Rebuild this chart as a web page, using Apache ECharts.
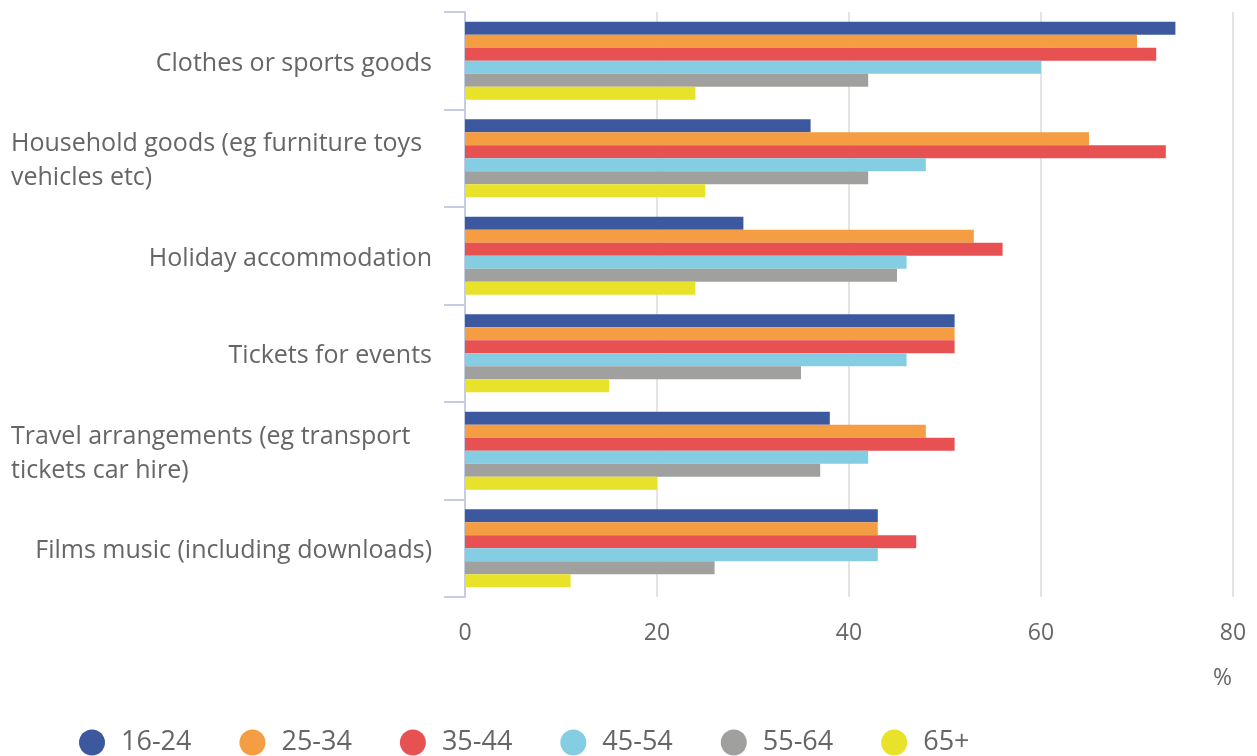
<!DOCTYPE html>
<html>
<head>
<meta charset="utf-8">
<script src="https://cdn.jsdelivr.net/npm/echarts@6/dist/echarts.min.js"></script>
<style>
  html, body { margin: 0; padding: 0; background: #fff; }
  #chart { width: 1257px; height: 756px; }
</style>
</head>
<body>
<div id="chart"></div>
<script>
// Online purchases by age group, % of internet users
const categories = [
  'Clothes or sports goods',
  'Household goods (eg furniture toys vehicles etc)',
  'Holiday accommodation',
  'Tickets for events',
  'Travel arrangements (eg transport tickets car hire)',
  'Films music (including downloads)'
];
const ageGroups = ['16-24', '25-34', '35-44', '45-54', '55-64', '65+'];
const age16to24 = [74, 36, 29, 51, 38, 43];
const age25to34 = [70, 65, 53, 51, 48, 43];
const age35to44 = [72, 73, 56, 51, 51, 47];
const age45to54 = [60, 48, 46, 46, 42, 43];
const age55to64 = [42, 42, 45, 35, 37, 26];
const age65plus = [24, 25, 24, 15, 20, 11];
const xTicks = [0, 20, 40, 60, 80];

const seriesValues = [age16to24, age25to34, age35to44, age45to54, age55to64, age65plus];
const colors = ['#3c59a0', '#f59d42', '#e85151', '#85cde3', '#a0a09f', '#e9e22a'];

// greedy word wrap for long category names
function wrap(text, maxChars) {
  const words = text.split(' ');
  const lines = [];
  let cur = '';
  words.forEach(w => {
    const next = cur ? cur + ' ' + w : w;
    if (next.length > maxChars && cur) { lines.push(cur); cur = w; }
    else cur = next;
  });
  if (cur) lines.push(cur);
  return lines;
}

const FONT = '"Open Sans", "Noto Sans", sans-serif';
const chart = echarts.init(document.getElementById('chart'), null, { renderer: 'canvas' });

const option = {
  animation: false,
  color: colors,
  textStyle: { fontFamily: FONT },
  grid: { left: 465, right: 24, top: 12, bottom: 159, containLabel: false },
  xAxis: {
    type: 'value',
    min: xTicks[0],
    max: xTicks[xTicks.length - 1],
    interval: xTicks[1] - xTicks[0],
    axisLine: { show: false },
    axisTick: { show: false },
    axisLabel: { color: '#666', fontSize: 23, margin: 25, fontFamily: FONT },
    splitLine: { show: true, lineStyle: { color: '#e4e4e4', width: 2 } }
  },
  yAxis: {
    type: 'category',
    inverse: true,
    data: categories,
    axisLine: { show: true, lineStyle: { color: '#c5cde2', width: 2 } },
    axisTick: { show: true, length: 21, lineStyle: { color: '#c5cde2', width: 2 } },
    axisLabel: {
      interval: 0,
      margin: 33,
      width: 421,
      color: '#666',
      fontSize: 25,
      lineHeight: 34,
      fontFamily: FONT,
      formatter: function (v) {
        const lines = wrap(v, 34);
        if (lines.length === 1) return '{r|' + v + '}';
        return lines.map(l => '{l|' + l + '}').join('\n');
      },
      rich: {
        r: { align: 'right', fontSize: 25, lineHeight: 34, color: '#666', fontFamily: FONT, padding: [6, 0, 0, 0] },
        l: { align: 'left', fontSize: 25, lineHeight: 34, color: '#666', fontFamily: FONT, padding: [6, 0, 0, 0] }
      }
    }
  },
  legend: {
    left: 74,
    top: 724,
    icon: 'circle',
    itemWidth: 26,
    itemHeight: 26,
    itemGap: 48,
    textStyle: { color: '#666', fontSize: 27, padding: [0, 0, 0, 11], fontFamily: FONT },
    data: ageGroups
  },
  graphic: [{
    type: 'text',
    right: 25,
    top: 667,
    style: { text: '%', fill: '#666', fontSize: 23, fontFamily: FONT }
  }],
  series: ageGroups.map((name, i) => ({
    name: name,
    type: 'bar',
    data: seriesValues[i],
    barGap: '0%',
    barCategoryGap: '20%',
    itemStyle: { color: colors[i] }
  }))
};

chart.setOption(option);
</script>
</body>
</html>
